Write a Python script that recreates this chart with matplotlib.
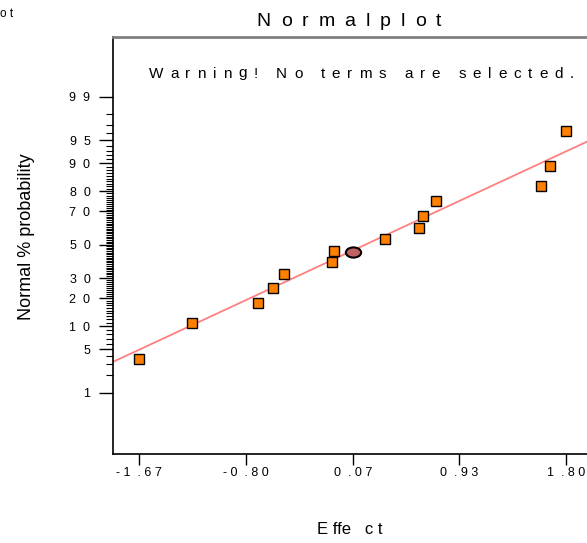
import matplotlib
matplotlib.use("Agg")
import matplotlib.pyplot as plt
from matplotlib.path import Path
from matplotlib.transforms import Affine2D
from matplotlib.font_manager import FontProperties, findfont, get_font
from statistics import NormalDist
import numpy as np

# effects and their normal % probabilities
effects = [-1.67, -1.244, -0.705, -0.580, -0.496, -0.105, -0.089,
           0.326, 0.605, 0.635, 0.740, 1.599, 1.667, 1.802]
probs = [3.66, 10.8, 17.8, 24.9, 32.4, 39.5, 46.2,
         53.8, 60.5, 67.6, 75.2, 82.2, 89.2, 96.3]
# error (centre) point
err_effect = [0.07]
err_prob = [45.6]
# reference line endpoints
line_effect = [-1.909, 1.969]
line_prob = [3.11, 94.73]

prob_ticks = [1, 5, 10, 20, 30, 50, 70, 80, 90, 95, 99]
effect_ticks = [-1.67, -0.80, 0.07, 0.93, 1.80]

nd = NormalDist()
W, H = 587, 543
DPI = 100
FONT = 'Liberation Sans'


def probit(p):
    return np.array([nd.inv_cdf(v / 100.0) for v in p])


def spaced_num(s):
    # wide, uneven spacing of the old plot font
    return " ".join(s).replace(" .", "  .")


def tracked_text(fig, cx, base_y, s, size, track):
    """Letter-spaced text centred at cx, baseline at base_y (pixels)."""
    font = get_font(findfont(FontProperties(family=FONT)))
    font.set_size(size, DPI)
    advs = [font.load_char(ord(ch)).linearHoriAdvance / 65536 for ch in s]
    x = cx - (sum(advs) + track * (len(s) - 1)) / 2
    for ch, a in zip(s, advs):
        if ch != " ":
            fig.text(x / W, 1 - base_y / H, ch, fontsize=size,
                     ha="left", va="baseline")
        x += a + track


plt.rcParams['font.family'] = [FONT, 'DejaVu Sans']

fig = plt.figure(figsize=(W / DPI, H / DPI), dpi=DPI)
ax = fig.add_axes([113.3 / W, 1 - 454 / H, (592 - 113.3) / W, (454 - 37) / H])

ax.plot(line_effect, probit(line_prob), color="#ff8080", lw=1.3, zorder=2)
ax.plot(effects, probit(probs), ls="none", marker="s", ms=7.6,
        mfc="#ff8000", mec="black", mew=1.0, zorder=3)
ellipse = Path.unit_circle().transformed(Affine2D().scale(1.5, 1.0))
ax.plot(err_effect, probit(err_prob), ls="none", marker=ellipse, ms=11,
        mfc="#c06262", mec="black", mew=1.5, zorder=4)

ax.set_xlim(-1.881, 2.011)
ax.set_ylim(-3.291, 3.266)

ax.set_yticks(probit(prob_ticks))
ax.set_yticklabels(["  ".join(str(v)) for v in prob_ticks], fontsize=9)
ax.set_yticks(probit([v for v in range(1, 100) if v not in prob_ticks]),
              minor=True)
ax.tick_params(axis="y", which="major", length=10, width=1, pad=6.5)
ax.tick_params(axis="y", which="minor", length=5.3, width=0.8)

ax.set_xticks(effect_ticks)
ax.set_xticklabels([spaced_num(f"{v:.2f}") for v in effect_ticks],
                   fontsize=9)
ax.tick_params(axis="x", length=8, width=1, pad=1.5)

ax.spines["top"].set_color("#808080")
ax.spines["top"].set_linewidth(2)
ax.spines["left"].set_linewidth(1.2)
ax.spines["bottom"].set_linewidth(1.2)

tracked_text(fig, 349, 26, "Normalplot", 14, 10.0)
tracked_text(fig, 361.5, 77.5, "Warning! No terms are selected.", 11, 6.9)
fig.text(350 / W, 1 - 529 / H, "E ffe   c t", fontsize=12,
         ha="center", va="center")
fig.text(27 / W, 1 - 237 / H, "Normal % probability", fontsize=13,
         rotation=90, ha="center", va="center")
fig.text(0.5 / W, 1 - 14 / H, "o t", fontsize=8.5, ha="left", va="center")

fig.savefig("out.png", dpi=DPI)
